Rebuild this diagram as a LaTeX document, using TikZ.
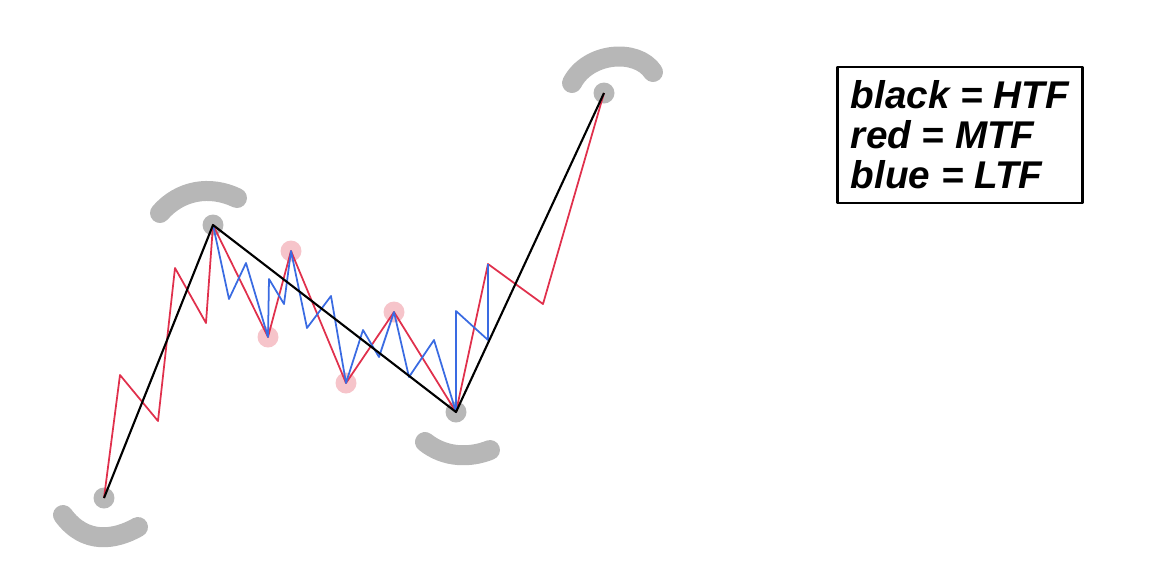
\documentclass[tikz,border=0pt]{standalone}
\usepackage{fontspec}
\setmainfont{Liberation Sans}
\usepackage{xcolor}
\usetikzlibrary{positioning,calc}

\definecolor{swinggray}{HTML}{B7B7B7}
\definecolor{pivotpink}{HTML}{F6C4CA}
\definecolor{mtfred}{HTML}{E0304C}
\definecolor{ltfblue}{HTML}{3A6BE2}

\begin{document}
\begin{tikzpicture}[x=0.02cm, y=-0.02cm, line join=round,
    htf/.style={black, line width=1.2pt},
    mtf/.style={mtfred, line width=1pt},
    ltf/.style={ltfblue, line width=1pt},
    swing/.style={circle, fill=swinggray, minimum size=0.42cm, inner sep=0pt},
    pivot/.style={circle, fill=pivotpink, minimum size=0.42cm, inner sep=0pt},
    bracket/.style={swinggray, line width=0.4cm, line cap=round}]
    \useasboundingbox (0,0) rectangle (1167,583);

    % main swing points (black)
    \coordinate (lowA) at (104,498);
    \coordinate (highB) at (213,225);
    \coordinate (lowC) at (456,412);
    \coordinate (highD) at (604,93);

    % red legs
    \coordinate (r1) at (120,375);
    \coordinate (r2) at (158,421);
    \coordinate (r3) at (175,268);
    \coordinate (r4) at (206,323);
    \coordinate (r5) at (268,337);
    \coordinate (r6) at (291,251);
    \coordinate (r7) at (346,383);
    \coordinate (r8) at (394,312);
    \coordinate (r9) at (488,264);
    \coordinate (r10) at (543,304);

    % blue legs
    \coordinate (b1) at (229,299);
    \coordinate (b2) at (246,263);
    \coordinate (b3) at (269,279);
    \coordinate (b4) at (284,304);
    \coordinate (b5) at (307,328);
    \coordinate (b6) at (331,296);
    \coordinate (b7) at (363,330);
    \coordinate (b8) at (379,357);
    \coordinate (b9) at (409,377);
    \coordinate (b10) at (434,340);
    \coordinate (b11) at (456,311);
    \coordinate (b12) at (488,340);

    % gray brackets
    \draw [bracket] (63,515) .. controls (85,545) and (115,540) .. (138,527);
    \draw [bracket] (160,213) .. controls (180,190) and (210,185) .. (237,198);
    \draw [bracket] (425,442) .. controls (445,458) and (470,458) .. (490,450);
    \draw [bracket] (572,83) .. controls (588,52) and (637,48) .. (653,72);

    \node [swing] (dotA) at (lowA) {};
    \node [swing] (dotB) at (highB) {};
    \node [swing] (dotC) at (lowC) {};
    \node [swing] (dotD) at (highD) {};

    \node [pivot] (p1) at (r5) {};
    \node [pivot] (p2) at (r6) {};
    \node [pivot] (p3) at (r7) {};
    \node [pivot] (p4) at (r8) {};

    \draw [mtf] (lowA) -- (r1) -- (r2) -- (r3) -- (r4) -- (highB) -- (r5) -- (r6)
        -- (r7) -- (r8) -- (lowC) -- (r9) -- (r10) -- (highD);
    \draw [ltf] (highB) -- (b1) -- (b2) -- (r5) -- (b3) -- (b4) -- (r6) -- (b5)
        -- (b6) -- (r7) -- (b7) -- (b8) -- (r8) -- (b9) -- (b10) -- (lowC)
        -- (b11) -- (b12) -- (r9);
    \draw [htf] (lowA) -- (highB) -- (lowC) -- (highD);

    \node [draw, line width=1.4pt, align=left, inner xsep=0.27cm, inner ysep=0.27cm,
        font=\fontsize{22}{22.8}\selectfont\bfseries\itshape] (legend) at (960,135)
        {black = HTF\\red = MTF\\blue = LTF};
\end{tikzpicture}
\end{document}
